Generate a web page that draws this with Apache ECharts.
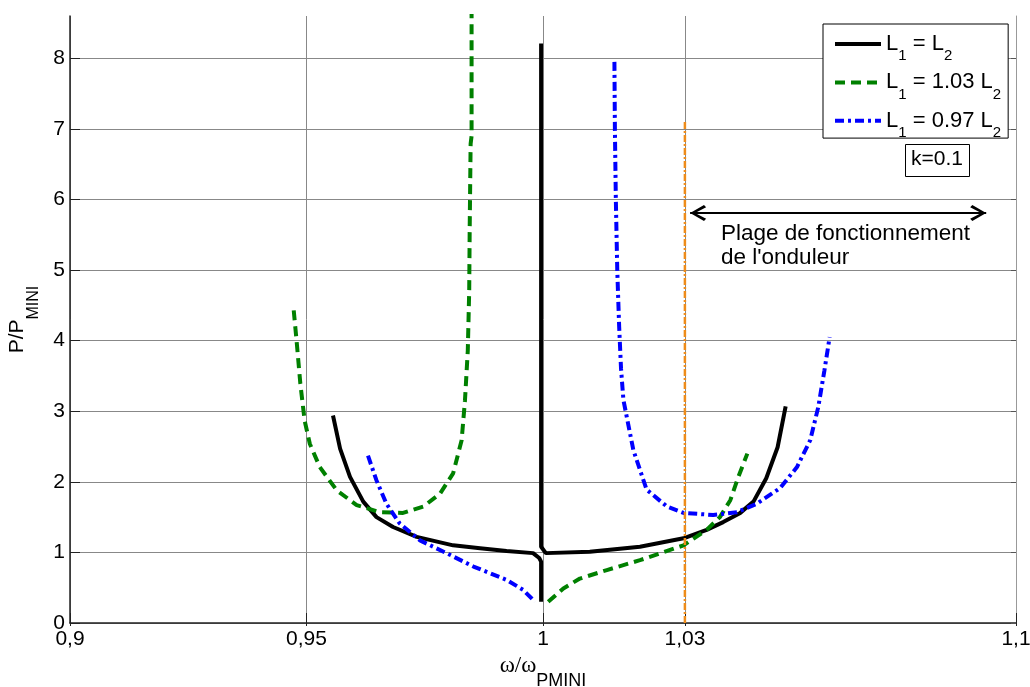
<!DOCTYPE html>
<html><head><meta charset="utf-8">
<script src="https://cdn.jsdelivr.net/npm/echarts@6/dist/echarts.min.js"></script>
<style>html,body{margin:0;padding:0;background:#fff}#c{width:1030px;height:687px}</style>
</head><body><div id="c"></div>
<script>
// ---- data ----
const xTicks = [0.9, 0.95, 1, 1.03, 1.1];
const yTicks = [0, 1, 2, 3, 4, 5, 6, 7, 8];
const seriesNames = ['L1 = L2', 'L1 = 1.03 L2', 'L1 = 0.97 L2'];

const blackLeft = [[0.9556,2.94],[0.9571,2.47],[0.9592,2.07],[0.9620,1.72],[0.9648,1.50],[0.9683,1.36],[0.9733,1.22],[0.9810,1.10],[0.9867,1.06],[0.9923,1.02],[0.9979,0.99],[0.9992,0.92],[0.9996,0.87],[0.9996,0.30]];
const blackStem = [[0.9996,8.21],[0.9996,1.08]];
const blackRight = [[1.0006,0.99],[1.0099,1.01],[1.0205,1.08],[1.0297,1.20],[1.0346,1.32],[1.0381,1.43],[1.0417,1.56],[1.0445,1.72],[1.0472,2.05],[1.0496,2.49],[1.0513,3.07]];

const greenLeft = [[0.9473,4.43],[0.9479,4.0],[0.9487,3.39],[0.9496,2.87],[0.9507,2.54],[0.9528,2.21],[0.9564,1.88],[0.9606,1.67],[0.9655,1.57],[0.9704,1.56],[0.9747,1.65],[0.9782,1.83],[0.9810,2.12],[0.9828,2.59],[0.9835,3.15],[0.9841,3.86],[0.9844,4.71],[0.9845,5.57],[0.9847,6.79],[0.9849,6.9],[0.9849,8.7]];
const greenRight = [[1.0011,0.30],[1.0043,0.49],[1.0078,0.63],[1.0135,0.75],[1.0205,0.89],[1.0297,1.10],[1.0346,1.32],[1.0374,1.50],[1.0396,1.74],[1.0413,2.07],[1.0432,2.40]];

const blueLeft = [[0.9630,2.37],[0.9648,2.02],[0.9669,1.69],[0.9697,1.41],[0.9740,1.17],[0.9796,0.99],[0.9853,0.80],[0.9923,0.61],[0.9958,0.47],[0.9983,0.30]];
const blueRight = [[1.0151,7.95],[1.0152,7.0],[1.0154,6.0],[1.0157,5.0],[1.0161,4.2],[1.0165,3.6],[1.0170,3.16],[1.0191,2.45],[1.0219,1.89],[1.0262,1.65],[1.0297,1.56],[1.0360,1.53],[1.0410,1.57],[1.0452,1.69],[1.0501,1.91],[1.0537,2.21],[1.0565,2.59],[1.0582,3.06],[1.0595,3.58],[1.0606,4.05]];

const rangeLine = [[1.03,0],[1.03,7.12]];
const arrowStart = [1.0311, 5.81];
const arrowEnd = [1.0937, 5.81];
const arrowHeadStart = [1.0328, 5.81];
const arrowHeadEnd = [1.0920, 5.81];

// ---- chart ----
const BRK = ['-','-'];
const SANS = '"Liberation Sans", Arial, sans-serif';
const legendRich = {
  'L1 = L2': '{t|L}{s|1}{t| = L}{s|2}',
  'L1 = 1.03 L2': '{t|L}{s|1}{t| = 1.03 L}{s|2}',
  'L1 = 0.97 L2': '{t|L}{s|1}{t| = 0.97 L}{s|2}'
};
const fmt = v => String(+v.toFixed(4)).replace('.', ',');
const chevron = 'path://M5,0 L10,9 L8.6,10.4 L5,3.2 L1.4,10.4 L0,9 Z';

const chart = echarts.init(document.getElementById('c'), null, {renderer: 'canvas'});
chart.setOption({
  animation: false,
  backgroundColor: '#fff',
  grid: {left: 70, right: 14, top: 16, bottom: 64, containLabel: false, outerBoundsMode: 'none'},
  xAxis: [{
    type: 'value', min: 0.9, max: 1.1, position: 'bottom',
    axisLine: {show: true, onZero: false, lineStyle: {color: '#222', width: 1.5}},
    axisTick: {show: true, inside: true, length: 10, customValues: xTicks, lineStyle: {color: '#222'}},
    axisLabel: {customValues: xTicks, formatter: fmt, fontFamily: SANS, fontSize: 21, color: '#000', margin: 6},
    splitLine: {show: true, lineStyle: {color: '#888', width: 1}},
    name: '{t|ω/ω}{s|PMINI}', nameLocation: 'middle', nameGap: 28,
    nameTextStyle: {rich: {
      t: {fontFamily: '"Liberation Serif", serif', fontSize: 23, color: '#000'},
      s: {fontFamily: SANS, fontSize: 18, color: '#000', padding: [15, 0, -15, 0]}
    }}
  }, {
    type: 'value', min: 0.9, max: 1.1, position: 'top',
    axisLine: {show: false},
    axisTick: {show: true, inside: true, length: 3, customValues: xTicks, lineStyle: {color: '#222'}},
    axisLabel: {show: false},
    splitLine: {show: false}
  }],
  yAxis: [{
    type: 'value', min: 0, max: 8.6, position: 'left',
    axisLine: {show: true, onZero: false, lineStyle: {color: '#222', width: 1.5}},
    axisTick: {show: true, inside: true, length: 10, customValues: yTicks, lineStyle: {color: '#222'}},
    axisLabel: {customValues: yTicks, fontFamily: SANS, fontSize: 21, color: '#000', margin: 5},
    splitLine: {show: true, lineStyle: {color: '#888', width: 1}},
    name: '{t|P/P}{s|MINI}', nameLocation: 'middle', nameRotate: 90, nameGap: 42,
    nameTextStyle: {rich: {
      t: {fontFamily: SANS, fontSize: 21, color: '#000'},
      s: {fontFamily: SANS, fontSize: 16, color: '#000', padding: [16.5, 0, -16.5, 0]}
    }}
  }, {
    type: 'value', min: 0, max: 8.6, position: 'right',
    axisLine: {show: true, lineStyle: {color: '#999', width: 1}},
    axisTick: {show: true, inside: true, length: 5, customValues: yTicks, lineStyle: {color: '#555'}},
    axisLabel: {show: false},
    splitLine: {show: false}
  }],
  legend: {
    data: seriesNames,
    orient: 'vertical', left: 823, top: 24,
    padding: [9, 7, -2.2, 10], itemGap: 7.9, itemWidth: 46, itemHeight: 14,
    borderColor: '#000', borderWidth: 1, backgroundColor: '#fff',
    lineStyle: {width: 4},
    itemStyle: {opacity: 0},
    formatter: name => legendRich[name],
    textStyle: {fontFamily: SANS, fontSize: 22, color: '#000', rich: {
      t: {fontFamily: SANS, fontSize: 22, color: '#000'},
      s: {fontFamily: SANS, fontSize: 15, color: '#000', padding: [12, 0, -12, 0]}
    }},
    selectedMode: false
  },
  graphic: [
    {type: 'rect', left: 905, top: 144, shape: {width: 64, height: 32}, style: {fill: '#fff', stroke: '#000', lineWidth: 1}, z: 10},
    {type: 'text', left: 911, top: 149, style: {text: 'k=0.1', font: '21px ' + SANS, fill: '#000'}, z: 11},
    {type: 'text', left: 721, top: 222, style: {text: 'Plage de fonctionnement\nde l\'onduleur', font: '22.5px ' + SANS, fill: '#000', lineHeight: 24}, z: 11}
  ],
  series: [
    {
      name: seriesNames[0], type: 'line', symbol: 'none', showSymbol: false,
      data: [...blackLeft, BRK, ...blackStem, ...blackRight],
      lineStyle: {color: '#000', width: 4, type: 'solid'}, itemStyle: {color: '#000'}, z: 3
    },
    {
      name: seriesNames[1], type: 'line', symbol: 'none', showSymbol: false,
      data: [...greenLeft, BRK, ...greenRight],
      lineStyle: {color: '#008000', width: 4, type: [10, 6]}, itemStyle: {color: '#008000'}, z: 4
    },
    {
      name: seriesNames[2], type: 'line', symbol: 'none', showSymbol: false,
      data: [...blueLeft, BRK, ...blueRight],
      lineStyle: {color: '#0000ff', width: 4, type: [9, 4, 3, 4]}, itemStyle: {color: '#0000ff'}, z: 5
    },
    {
      name: 'range', type: 'line', symbol: 'none', showSymbol: false,
      data: rangeLine,
      lineStyle: {color: '#ee8c1a', width: 2.5, type: [7, 2, 2, 2]}, z: 6,
      markLine: {
        silent: true, animation: false,
        symbol: [chevron, chevron], symbolSize: [16, 16],
        label: {show: false},
        lineStyle: {color: '#000', width: 2, type: 'solid'},
        itemStyle: {color: '#000'},
        data: [
          [{coord: arrowStart, symbol: 'none'}, {coord: arrowEnd, symbol: 'none'}],
          [{coord: arrowHeadStart}, {coord: arrowHeadEnd}]
        ]
      }
    }
  ]
});
</script></body></html>
